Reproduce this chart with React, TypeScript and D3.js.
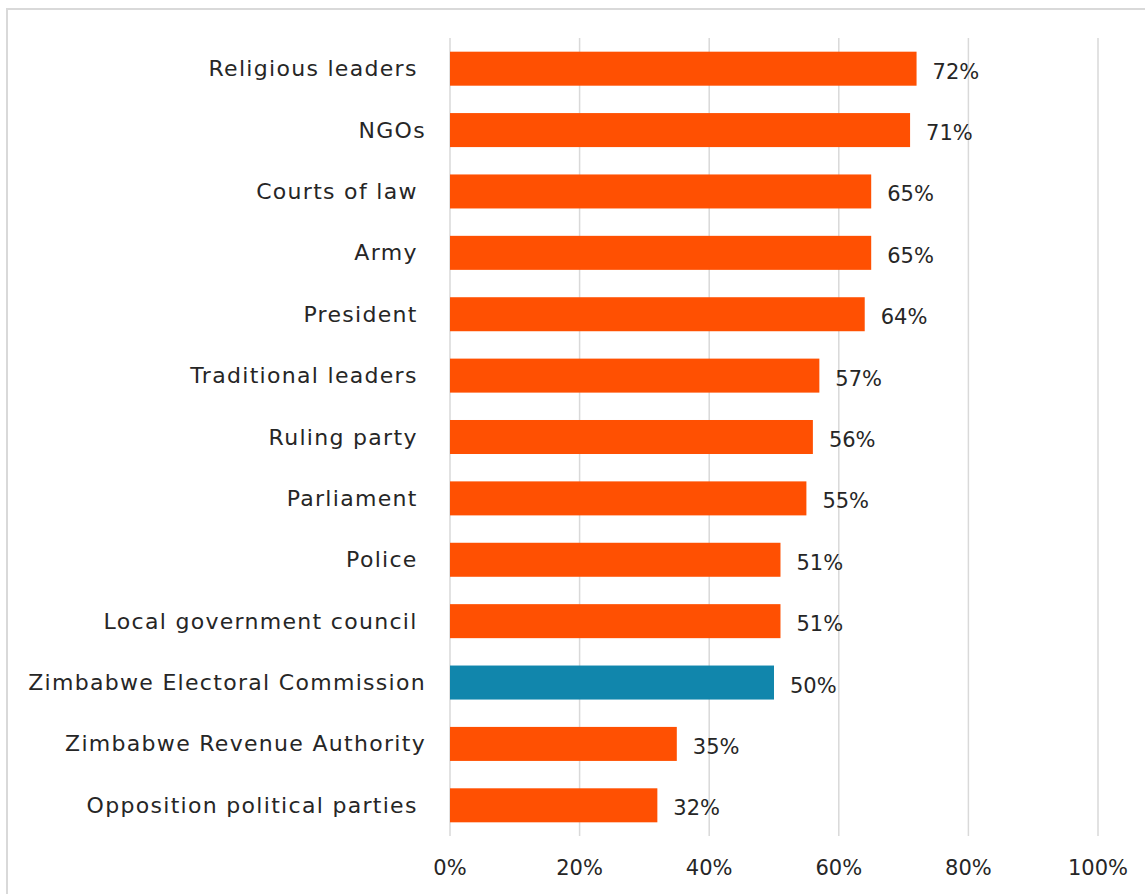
import React from "react";
import * as d3 from "d3";

const categories = [
  "Religious leaders ",
  "NGOs",
  "Courts of law ",
  "Army ",
  "President ",
  "Traditional leaders ",
  "Ruling party ",
  "Parliament ",
  "Police ",
  "Local government council ",
  "Zimbabwe Electoral Commission",
  "Zimbabwe Revenue Authority",
  "Opposition political parties ",
];
const values = [72, 71, 65, 65, 64, 57, 56, 55, 51, 51, 50, 35, 32];
const highlighted = ["Zimbabwe Electoral Commission"];
const ticks = [0, 20, 40, 60, 80, 100];

const W = 1145;
const H = 894;
const FONT = "'DejaVu Sans', sans-serif";
const ORANGE = "#FF5002";
const BLUE = "#1186AC";
const TEXT = "#262626";

export default function App() {
  const x = d3.scaleLinear().domain([0, 100]).range([450, 1098]);
  const y = d3
    .scaleBand<string>()
    .domain(categories)
    .range([38, 836])
    .paddingInner(0.446)
    .paddingOuter(0.223);
  const fmt = (v: number) => `${v}%`;

  return (
    <svg
      width={W}
      height={H}
      style={{ position: "absolute", left: 0, top: 0, background: "#fff" }}
      fontFamily={FONT}
    >
      <rect x={0} y={0} width={W} height={H} fill="#fff" />
      <rect x={7} y={9} width={W + 20} height={H + 20} fill="none" stroke="#d9d9d9" strokeWidth={2} />
      {ticks.map((t) => (
        <line key={t} x1={x(t)} x2={x(t)} y1={38} y2={836} stroke="#d9d9d9" strokeWidth={1.5} />
      ))}
      {categories.map((c, i) => (
        <g key={c}>
          <rect
            x={x(0)}
            y={y(c)!}
            width={x(values[i]) - x(0)}
            height={y.bandwidth()}
            fill={highlighted.includes(c.trim()) ? BLUE : ORANGE}
          />
          <text
            x={426}
            y={y(c)! + y.bandwidth() / 2}
            textAnchor="end"
            dominantBaseline="central"
            fontSize={22}
            letterSpacing={1.3}
            fill={TEXT}
            style={{ whiteSpace: "pre" }}
          >
            {c}
          </text>
          <text
            x={x(values[i]) + 16}
            y={y(c)! + y.bandwidth() / 2 + 3}
            dominantBaseline="central"
            fontSize={21}
            fill={TEXT}
          >
            {fmt(values[i])}
          </text>
        </g>
      ))}
      {ticks.map((t) => (
        <text key={t} x={x(t)} y={868} textAnchor="middle" dominantBaseline="central" fontSize={21} fill={TEXT}>
          {fmt(t)}
        </text>
      ))}
    </svg>
  );
}
